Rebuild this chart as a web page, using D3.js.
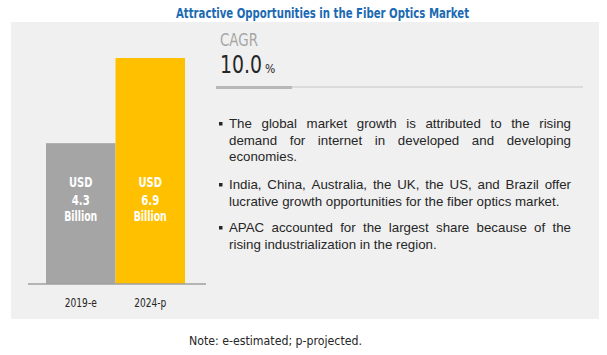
<!DOCTYPE html>
<html>
<head>
<meta charset="utf-8">
<script src="https://cdn.jsdelivr.net/npm/d3@7"></script>
<style>
  html, body { margin: 0; padding: 0; background: #ffffff; }
  svg { display: block; }
</style>
</head>
<body>
<div id="chart"></div>
<script>
// ---- Data ----
const categories = ["2019-e", "2024-p"];
const values = [4.3, 6.9];
const valueLabels = [["USD", "4.3", "Billion"], ["USD", "6.9", "Billion"]];
const barColors = ["#a5a5a5", "#ffc000"];
const titleText = "Attractive Opportunities in the Fiber Optics Market";
const cagrLabel = "CAGR";
const cagrValue = "10.0";
const cagrUnit = "%";
const bullets = [
  ["The global market growth is attributed to the rising",
   "demand for internet in developed and developing",
   "economies."],
  ["India, China, Australia, the UK, the US, and Brazil offer",
   "lucrative growth opportunities for the fiber optics market."],
  ["APAC accounted for the largest share because of the",
   "rising industrialization in the region."]
];
const noteText = "Note: e-estimated; p-projected.";

// ---- Layout ----
const W = 607, H = 355;
const narrow = "'DejaVu Sans Condensed', 'Liberation Sans Narrow', sans-serif";
const bodyFont = "'Liberation Sans', Arial, sans-serif";

const svg = d3.select("#chart").append("svg").attr("width", W).attr("height", H);

// squeeze a single-line text to a target width (narrow-font look)
function fit(sel, w) {
  sel.attr("textLength", w).attr("lengthAdjust", "spacingAndGlyphs");
  return sel;
}
// squeeze via horizontal scale transform (text drawn at origin)
function squeeze(sel, x0, y0, w) {
  const len = sel.node().getComputedTextLength();
  const k = Math.min(1, w / len);
  sel.attr("x", 0).attr("y", 0).attr("transform", `translate(${x0},${y0}) scale(${k},1)`);
  return sel;
}

// panel
svg.append("rect").attr("x", 11).attr("y", 22).attr("width", 588).attr("height", 297).attr("fill", "#f0f0f0");

// title
fit(svg.append("text").attr("x", 176).attr("y", 18)
  .attr("font-family", narrow).attr("font-weight", "bold").attr("font-size", 14.5)
  .attr("fill", "#1b6ab3").text(titleText), 293);

// scales
const x = d3.scaleBand().domain(categories).range([46, 185]).paddingInner(0).paddingOuter(0);
const y = d3.scaleLinear().domain([0, 6.9]).range([284, 58]);

svg.append("g").selectAll("rect.bar").data(categories).join("rect").attr("class", "bar")
  .attr("x", d => x(d)).attr("width", x.bandwidth())
  .attr("y", (d, i) => y(values[i])).attr("height", (d, i) => y(0) - y(values[i]))
  .attr("fill", (d, i) => barColors[i]);

// baseline axis
const xAxis = d3.axisBottom(x).tickSize(0).tickPadding(14);
const ax = svg.append("g").attr("transform", `translate(0,${y(0)})`).call(xAxis);
ax.select(".domain").remove();
ax.selectAll("text").attr("font-family", narrow).attr("font-size", 12.5).attr("fill", "#262626")
  .attr("textLength", 32).attr("lengthAdjust", "spacingAndGlyphs");
svg.append("line").attr("x1", 28).attr("x2", 206).attr("y1", y(0)).attr("y2", y(0))
  .attr("stroke", "#a0a0a0").attr("stroke-width", 1.5);

// value labels inside bars
const lblWidths = [23.5, 18, 33];
const lblBase = [187, 204.5, 221];
categories.forEach((c, i) => {
  valueLabels[i].forEach((t, j) => {
    fit(svg.append("text").attr("x", x(c) + x.bandwidth() / 2 - lblWidths[j] / 2).attr("y", lblBase[j])
      .attr("font-family", narrow).attr("font-weight", "bold")
      .attr("font-size", 14).attr("fill", "#ffffff").text(t), lblWidths[j]);
  });
});

// CAGR block
fit(svg.append("text").attr("x", 220).attr("y", 46).attr("font-family", narrow)
  .attr("font-size", 17.5).attr("fill", "#a6a6a6").text(cagrLabel), 38);
squeeze(svg.append("text").attr("font-family", narrow).attr("font-size", 24)
  .attr("fill", "#262626").text(cagrValue), 220, 73, 42);
squeeze(svg.append("text").attr("font-family", narrow).attr("font-size", 12)
  .attr("fill", "#262626").text(cagrUnit), 265, 73, 10.5);
svg.append("line").attr("x1", 216).attr("x2", 583).attr("y1", 87).attr("y2", 87)
  .attr("stroke", "#d4d4d4").attr("stroke-width", 1.5);
svg.append("line").attr("x1", 216).attr("x2", 292).attr("y1", 87.5).attr("y2", 87.5)
  .attr("stroke", "#b8b8b8").attr("stroke-width", 3);

// bullets (justified)
const tx0 = 229, tx1 = 571, lh = 16.6;
const paraTops = [128, 189, 232];
const fs = 13.3;
bullets.forEach((lines, p) => {
  const by = paraTops[p];
  svg.append("rect").attr("x", 219).attr("y", by - 6).attr("width", 3.5).attr("height", 3.5).attr("fill", "#262626");
  lines.forEach((line, li) => {
    const ly = by + li * lh;
    const words = line.split(" ");
    const last = li === lines.length - 1;
    if (last || words.length < 2) {
      svg.append("text").attr("x", tx0).attr("y", ly).attr("font-family", bodyFont)
        .attr("font-size", fs).attr("fill", "#262626").text(line);
    } else {
      const nodes = words.map(w => svg.append("text").attr("y", ly).attr("font-family", bodyFont)
        .attr("font-size", fs).attr("fill", "#262626").text(w));
      const widths = nodes.map(n => n.node().getComputedTextLength());
      const total = d3.sum(widths);
      const gap = (tx1 - tx0 - total) / (words.length - 1);
      let cx = tx0;
      nodes.forEach((n, k) => { n.attr("x", cx); cx += widths[k] + gap; });
    }
  });
});

// note
fit(svg.append("text").attr("x", 189).attr("y", 345)
  .attr("font-family", narrow).attr("font-size", 12.5).attr("fill", "#262626").text(noteText), 173);
</script>
</body>
</html>
